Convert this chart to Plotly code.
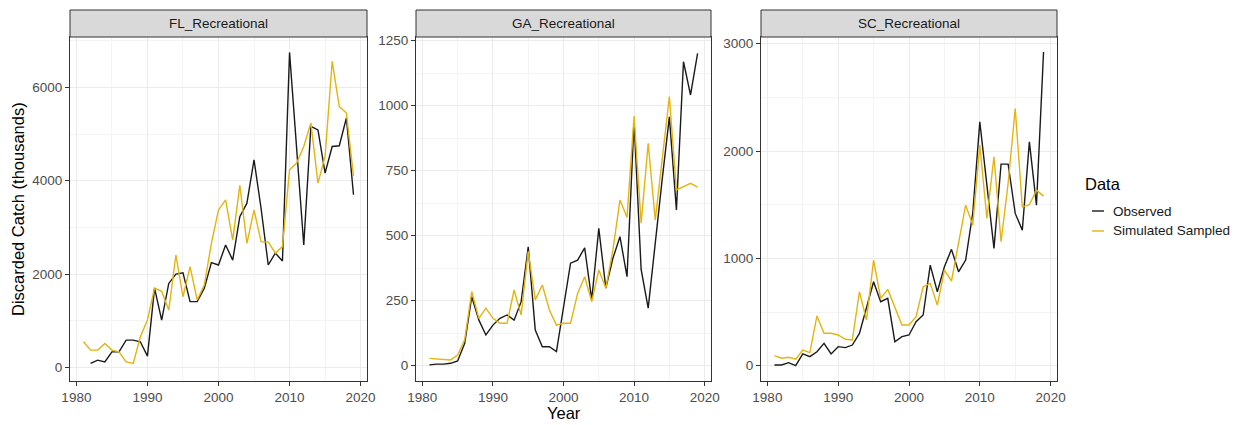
import plotly.graph_objects as go

years = list(range(1981, 2020))

fl_observed = [None, 86, 157, 120, 335, 335, 586, 586, 550, 243, 1700, 1015, 1800, 2000, 2030,
               1410, 1410, 1700, 2245, 2195, 2625, 2300, 3230, 3520, 4450, 3400, 2195, 2450, 2280,
               6750, 4690, 2625, 5165, 5090, 4165, 4735, 4750, 5345, 3700]
fl_simulated = [550, 372, 372, 515, 372, 335, 120, 86, 657, 1015, 1700, 1630, 1230, 2410, 1515,
                2160, 1445, 1766, 2660, 3375, 3590, 2730, 3900, 2660, 3375, 2690, 2690, 2450, 2590,
                4235, 4380, 4735, 5240, 3950, 4520, 6560, 5590, 5450, 4100]

ga_observed = [3, 6, 6, 9, 18, 86, 265, 176, 118, 156, 182, 195, 175, 246, 457, 137, 73, 73, 54,
               225, 394, 406, 453, 253, 528, 298, 413, 496, 342, 940, 370, 221, 480, 720, 957,
               599, 1169, 1041, 1201]
ga_simulated = [28, 26, 25, 22, 41, 99, 285, 182, 221, 182, 163, 163, 291, 195, 440, 253, 310,
                214, 156, 163, 163, 278, 342, 246, 368, 298, 445, 637, 570, 960, 548, 855, 560,
                790, 1035, 676, 688, 701, 687]

sc_observed = [6, 6, 28, 0, 109, 84, 130, 208, 109, 177, 168, 192, 301, 549, 782, 596, 627, 223,
               270, 286, 410, 472, 937, 689, 922, 1084, 875, 984, 1420, 2272, 1680, 1093, 1878,
               1878, 1419, 1263, 2086, 1496, 2924]
sc_simulated = [93, 69, 78, 60, 146, 121, 463, 302, 302, 286, 246, 240, 689, 425, 984, 627, 711,
                549, 379, 379, 456, 735, 767, 565, 891, 789, 1140, 1496, 1310, 2055, 1372, 1946,
                1155, 1700, 2397, 1480, 1500, 1636, 1580]

panel_titles = ["FL_Recreational", "GA_Recreational", "SC_Recreational"]
series_names = ["Observed", "Simulated Sampled"]
legend_title = "Data"
obs_color = "#1A1A1A"
sim_color = "#E5B40E"

W, H = 1245, 425
FONT = "Liberation Sans, Arial, sans-serif"

panels = [
    (fl_observed, fl_simulated, (70, 367), [-290, 7080], [0, 2000, 4000, 6000], 1000),
    (ga_observed, ga_simulated, (416, 711), [-59, 1264], [0, 250, 500, 750, 1000, 1250], 125),
    (sc_observed, sc_simulated, (761, 1057), [-143, 3063], [0, 1000, 2000, 3000], 500),
]

y_top_px, y_bot_px, strip_top_px = 37, 381, 10
ydom = [(H - y_bot_px) / H, (H - y_top_px) / H]

fig = go.Figure()
layout = dict(
    width=W, height=H, margin=dict(l=0, r=0, t=0, b=0, pad=0),
    paper_bgcolor="white", plot_bgcolor="white",
    font=dict(family=FONT, color="#1A1A1A"),
    showlegend=False,
)
shapes = []
annotations = []

for i, (obs, sim, (x0, x1), yr, yt, ymin) in enumerate(panels):
    n = "" if i == 0 else str(i + 1)
    fig.add_trace(go.Scatter(x=years, y=obs, mode="lines", name=series_names[0],
                             line=dict(color=obs_color, width=1.4),
                             xaxis="x" + n, yaxis="y" + n, connectgaps=False))
    fig.add_trace(go.Scatter(x=years, y=sim, mode="lines", name=series_names[1],
                             line=dict(color=sim_color, width=1.4),
                             xaxis="x" + n, yaxis="y" + n))
    xd = [x0 / W, x1 / W]
    layout["xaxis" + n] = dict(
        domain=xd, anchor="y" + n, range=[1979.1, 2020.9], automargin=False,
        tickvals=[1980, 1990, 2000, 2010, 2020], ticks="outside", ticklen=4,
        tickcolor="#333333", tickfont=dict(size=13.5, color="#4D4D4D", family=FONT),
        showgrid=True, gridcolor="#EBEBEB", gridwidth=1,
        minor=dict(tickvals=[1985, 1995, 2005, 2015], showgrid=True,
                   gridcolor="#F4F4F4", gridwidth=0.6, ticks=""),
        showline=True, mirror=True, linecolor="#333333", linewidth=1, zeroline=False,
    )
    layout["yaxis" + n] = dict(
        domain=ydom, anchor="x" + n, range=yr, automargin=False,
        tickvals=yt, ticks="outside", ticklen=4,
        tickcolor="#333333", tickfont=dict(size=13.5, color="#4D4D4D", family=FONT),
        showgrid=True, gridcolor="#EBEBEB", gridwidth=1,
        minor=dict(dtick=ymin, tick0=ymin, showgrid=True, gridcolor="#F4F4F4",
                   gridwidth=0.6, ticks=""),
        showline=True, mirror=True, linecolor="#333333", linewidth=1, zeroline=False,
    )
    shapes.append(dict(type="rect", xref="paper", yref="paper",
                       x0=xd[0], x1=xd[1], y0=ydom[1], y1=(H - strip_top_px) / H,
                       fillcolor="#D9D9D9", line=dict(color="#333333", width=1)))
    annotations.append(dict(text=panel_titles[i], xref="paper", yref="paper",
                            x=(xd[0] + xd[1]) / 2, y=(ydom[1] + (H - strip_top_px) / H) / 2,
                            showarrow=False, xanchor="center", yanchor="middle",
                            font=dict(size=13.5, color="#1A1A1A", family=FONT)))

annotations.append(dict(text="Discarded Catch (thousands)", xref="paper", yref="paper",
                        x=18 / W, y=(H - 209) / H, textangle=-90, showarrow=False,
                        xanchor="center", yanchor="middle",
                        font=dict(size=16.5, color="#000000", family=FONT)))
annotations.append(dict(text="Year", xref="paper", yref="paper",
                        x=563.5 / W, y=(H - 424) / H, showarrow=False,
                        xanchor="center", yanchor="bottom",
                        font=dict(size=16.5, color="#000000", family=FONT)))

# legend (drawn as key lines + labels)
annotations.append(dict(text=legend_title, xref="paper", yref="paper",
                        x=1083 / W, y=(H - 184) / H, showarrow=False,
                        xanchor="left", yanchor="middle",
                        font=dict(size=16.5, color="#000000", family=FONT)))
for name, color, ypx in [(series_names[0], obs_color, 211), (series_names[1], sim_color, 231)]:
    shapes.append(dict(type="line", xref="paper", yref="paper",
                       x0=1092 / W, x1=1104 / W, y0=(H - ypx) / H, y1=(H - ypx) / H,
                       line=dict(color=color, width=1.4)))
    annotations.append(dict(text=name, xref="paper", yref="paper",
                            x=1111 / W, y=(H - ypx) / H, showarrow=False,
                            xanchor="left", yanchor="middle",
                            font=dict(size=13.5, color="#1A1A1A", family=FONT)))

layout["shapes"] = shapes
layout["annotations"] = annotations
fig.update_layout(**layout)
fig.write_html("out.html", config={"displayModeBar": False},
               post_script="document.body.style.margin='0';document.body.style.overflow='hidden';")
